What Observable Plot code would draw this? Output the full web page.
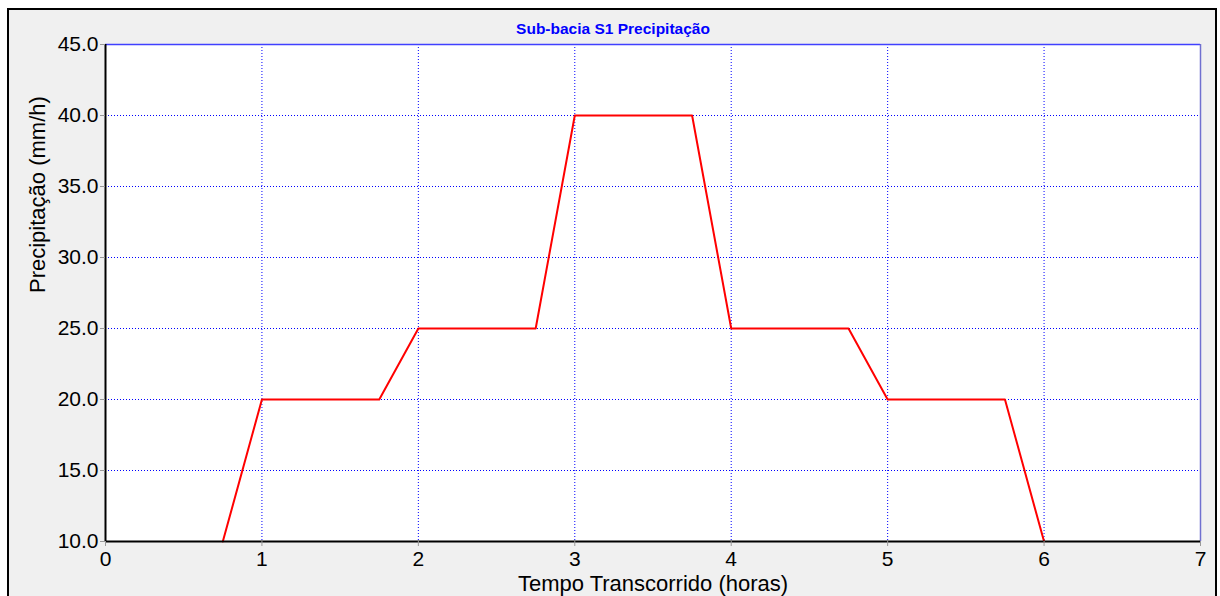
<!DOCTYPE html>
<html><head><meta charset="utf-8">
<script src="https://cdn.jsdelivr.net/npm/d3@7"></script>
<script src="https://cdn.jsdelivr.net/npm/@observablehq/plot@0.6"></script>
<style>
html,body{margin:0;padding:0;background:#fff;width:1220px;height:596px;overflow:hidden;font-family:"Liberation Sans",Arial,sans-serif;}
#frame{position:absolute;left:7px;top:8px;width:1206px;height:600px;border:2px solid #000;background:#f0f0f0;}
</style></head>
<body>
<div id="frame"></div>
<script>
const chartTitle = "Sub-bacia S1 Precipitação";
const xLabel = "Tempo Transcorrido (horas)";
const yLabel = "Precipitação (mm/h)";
const hours = [0.75, 1, 1.75, 2, 2.75, 3, 3.75, 4, 4.75, 5, 5.75, 6];
const precip = [10, 20, 20, 25, 25, 40, 40, 25, 25, 20, 20, 10];
const xTicks = [0, 1, 2, 3, 4, 5, 6, 7];
const yTicks = [10, 15, 20, 25, 30, 35, 40, 45];

const data = hours.map((h, i) => ({h, p: precip[i]}));
const fs = 21;
const chart = Plot.plot({
  width: 1206, height: 590,
  marginLeft: 96, marginRight: 15, marginTop: 34, marginBottom: 59,
  style: {background: "transparent", fontFamily: "'Liberation Sans', Arial, sans-serif", color: "#000", overflow: "visible"},
  x: {domain: [0, 7]},
  y: {domain: [10, 45]},
  marks: [
    Plot.frame({fill: "#fff"}),
    Plot.ruleX(xTicks.slice(1, -1), {stroke: "#0000ff", strokeWidth: 1, strokeDasharray: "1,2"}),
    Plot.ruleY(yTicks.slice(1, -1), {stroke: "#0000ff", strokeWidth: 1, strokeDasharray: "1,2"}),
    Plot.ruleY([45], {stroke: "#4040ff", strokeWidth: 1.5}),
    Plot.ruleX([7], {stroke: "#7070d0", strokeWidth: 1.5}),
    Plot.line(data, {x: "h", y: "p", stroke: "#ff0000", strokeWidth: 2}),
    Plot.ruleX([0], {stroke: "#000", strokeWidth: 2}),
    Plot.ruleY([10], {stroke: "#000", strokeWidth: 2}),
    Plot.axisX({ticks: xTicks, tickFormat: d => String(d), tickSize: 5, stroke: "#999", fontSize: fs, tickPadding: 5, label: null}),
    Plot.axisY({ticks: yTicks, tickFormat: d => d.toFixed(1), tickSize: 5, stroke: "#999", fontSize: fs, tickPadding: 2, label: null}),
    Plot.text([xLabel], {frameAnchor: "bottom", dy: 42, text: d => d, fontSize: 22, lineAnchor: "middle"}),
    Plot.text([yLabel], {frameAnchor: "left", dx: -68, rotate: -90, text: d => d, fontSize: 22}),
    Plot.text([chartTitle], {frameAnchor: "top", dy: -22, dx: -40, text: d => d, fontSize: 15.5, fontWeight: "bold", fill: "#0000ff"})
  ]
});
chart.style.position = "absolute";
chart.style.left = "0px";
chart.style.top = "0px";
document.getElementById("frame").appendChild(chart);
</script>
</body></html>
